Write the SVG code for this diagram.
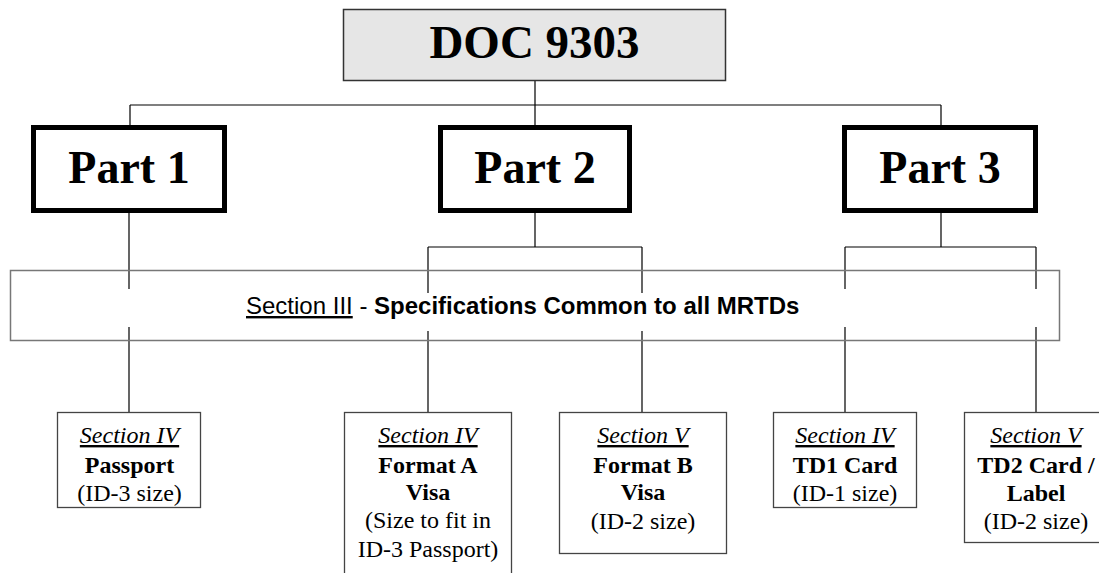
<svg xmlns="http://www.w3.org/2000/svg" width="1099" height="573" viewBox="0 0 1099 573">
<style>
.conn{stroke:#000;stroke-width:1.2;fill:none}
.part{fill:#fff;stroke:#000;stroke-width:5}
.leaf{fill:#fff;stroke:#444;stroke-width:1.3}
.tb{font-weight:bold;text-anchor:middle}
.lt{font-size:24px;text-anchor:middle;fill:#000}
.it{font-style:italic;text-decoration:underline}
.bd{font-weight:bold}
</style>
<rect width="1099" height="573" fill="#fff"/>
<g id="connectors">
<path class="conn" d="M535 80V105M130 105H941M130 105V127M535 105V127M941 105V127"/>
<path class="conn" d="M129 210V289M129 327V412"/>
<path class="conn" d="M535 210V247M428 247H642M428 247V293M428 331V412M642 247V293M642 331V412"/>
<path class="conn" d="M941 210V247M845 247H1036M845 247V289M845 327V412M1036 247V289M1036 327V412"/>
</g>
<g font-family="Liberation Serif, Tinos, Times New Roman, Times, serif">
<g id="doc9303">
<rect x="343.5" y="9.5" width="382" height="71" fill="#e6e6e6" stroke="#333" stroke-width="1.5"/>
<text class="tb" x="534.5" y="58" font-size="47">DOC 9303</text>
</g>
<g id="part1">
<rect class="part" x="33.5" y="127.5" width="191" height="83"/>
<text class="tb" x="129" y="183" font-size="46">Part 1</text>
</g>
<g id="part2">
<rect class="part" x="440.5" y="127.5" width="189" height="83"/>
<text class="tb" x="535" y="183" font-size="46">Part 2</text>
</g>
<g id="part3">
<rect class="part" x="844.5" y="127.5" width="191" height="83"/>
<text class="tb" x="940" y="183" font-size="46">Part 3</text>
</g>
<g id="passport">
<rect class="leaf" x="57.5" y="412.5" width="143" height="95"/>
<text class="lt" x="129.5" y="443"><tspan class="it">Section IV</tspan></text>
<text class="lt bd" x="129.5" y="473">Passport</text>
<text class="lt" x="129.5" y="501">(ID-3 size)</text>
</g>
<g id="formatA">
<rect class="leaf" x="344.5" y="412.5" width="167" height="175"/>
<text class="lt" x="428" y="443"><tspan class="it">Section IV</tspan></text>
<text class="lt bd" x="428" y="473">Format A</text>
<text class="lt bd" x="428" y="500">Visa</text>
<text class="lt" x="428" y="528">(Size to fit in</text>
<text class="lt" x="428" y="557">ID-3 Passport)</text>
</g>
<g id="formatB">
<rect class="leaf" x="559.5" y="412.5" width="167" height="141"/>
<text class="lt" x="643" y="443"><tspan class="it">Section V</tspan></text>
<text class="lt bd" x="643" y="473">Format B</text>
<text class="lt bd" x="643" y="500">Visa</text>
<text class="lt" x="643" y="529">(ID-2 size)</text>
</g>
<g id="td1">
<rect class="leaf" x="773.5" y="412.5" width="143" height="95"/>
<text class="lt" x="845" y="443"><tspan class="it">Section IV</tspan></text>
<text class="lt bd" x="845" y="473">TD1 Card</text>
<text class="lt" x="845" y="501">(ID-1 size)</text>
</g>
<g id="td2">
<rect class="leaf" x="964.5" y="412.5" width="143" height="130"/>
<text class="lt" x="1036" y="443"><tspan class="it">Section V</tspan></text>
<text class="lt bd" x="1036" y="473">TD2 Card /</text>
<text class="lt bd" x="1036" y="501">Label</text>
<text class="lt" x="1036" y="529">(ID-2 size)</text>
</g>
</g>
<g id="section3">
<rect x="10.5" y="270.5" width="1049" height="70" fill="none" stroke="#777" stroke-width="1.5"/>
<text x="246" y="314" font-family="Liberation Sans, Arial, sans-serif" font-size="24" fill="#000"><tspan text-decoration="underline">Section III</tspan> - <tspan font-weight="bold">Specifications Common to all MRTDs</tspan></text>
</g>
</svg>
